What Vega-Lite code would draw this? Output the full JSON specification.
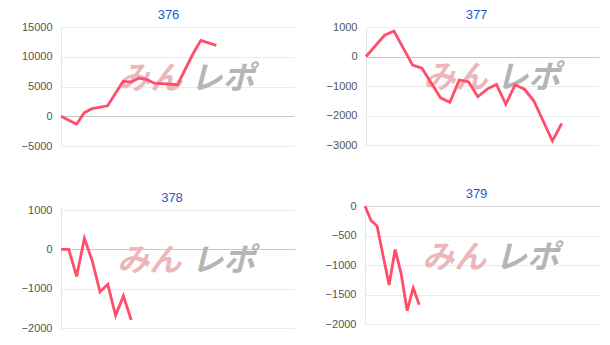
{
  "$schema": "https://vega.github.io/schema/vega-lite/v6.json",
  "padding": {"left": 19, "top": 9, "right": 5, "bottom": 5},
  "background": "#ffffff",
  "config": {
    "view": {"stroke": null},
    "font": "Liberation Sans",
    "title": {"fontSize": 13, "fontWeight": "normal", "color": "#1a5dc8", "font": "Liberation Sans", "offset": -1, "anchor": "middle"},
    "axisY": {"grid": true, "ticks": false, "domain": false, "labelPadding": 9, "labelColor": "#555555", "labelFontSize": 11, "gridColor": "#ebebeb", "minExtent": 40, "maxExtent": 40, "format": "d", "labelOverlap": false},
    "axisX": {"ticks": false, "domain": false, "labels": false, "grid": true, "gridColor": "#e6e6e6", "minExtent": 0, "maxExtent": 0}
  },
  "datasets": {
    "one": [{"k": 1}],
    "p376": [
      {"i": 0, "v": 0}, {"i": 2, "v": -1350}, {"i": 3, "v": 600}, {"i": 4, "v": 1280}, {"i": 6, "v": 1760},
      {"i": 8, "v": 5900}, {"i": 9, "v": 5730}, {"i": 10, "v": 6400}, {"i": 11, "v": 6200}, {"i": 12, "v": 5560},
      {"i": 15, "v": 5300}, {"i": 17, "v": 10500}, {"i": 18, "v": 12750}, {"i": 20, "v": 11900}
    ],
    "p377": [
      {"i": 0, "v": 0}, {"i": 2, "v": 720}, {"i": 3, "v": 865}, {"i": 5, "v": -290}, {"i": 6, "v": -395},
      {"i": 8, "v": -1400}, {"i": 9, "v": -1555}, {"i": 10, "v": -800}, {"i": 11, "v": -855}, {"i": 12, "v": -1365},
      {"i": 13, "v": -1105}, {"i": 14, "v": -945}, {"i": 15, "v": -1620}, {"i": 16, "v": -960}, {"i": 17, "v": -1110},
      {"i": 18, "v": -1500}, {"i": 20, "v": -2860}, {"i": 21, "v": -2270}
    ],
    "p378": [
      {"i": 0, "v": 0}, {"i": 1, "v": 0}, {"i": 2, "v": -690}, {"i": 3, "v": 280}, {"i": 4, "v": -290},
      {"i": 5, "v": -1080}, {"i": 6, "v": -890}, {"i": 7, "v": -1680}, {"i": 8, "v": -1185}, {"i": 9, "v": -1795}
    ],
    "p379": [
      {"i": 0, "v": 0}, {"i": 1, "v": -245}, {"i": 2, "v": -340}, {"i": 4, "v": -1340}, {"i": 5, "v": -735},
      {"i": 6, "v": -1150}, {"i": 7, "v": -1775}, {"i": 8, "v": -1390}, {"i": 9, "v": -1675}
    ]
  },
  "vconcat": [
    {
      "hconcat": [
        {
          "width": 233, "height": 119,
          "title": {"text": "376", "dx": -9},
          "layer": [
            {"data": {"name": "one"}, "mark": {"type": "text", "text": "みん", "font": "Noto Sans CJK JP", "fontSize": 32, "fontWeight": "bold", "fontStyle": "italic", "color": "#ebb7b9", "baseline": "middle", "align": "center"}, "encoding": {"x": {"datum": 11.5, "type": "quantitative", "scale": {"domain": [0, 30], "nice": false, "zero": false}, "axis": {"values": [0], "title": null}}, "y": {"datum": 6290, "type": "quantitative", "scale": {"domain": [-5000, 15000], "nice": false, "zero": false}, "axis": {"values": [-5000, 0, 5000, 10000, 15000], "title": null, "labelOverlap": false, "gridColor": {"condition": {"test": "datum.value === 0", "value": "#c6c6c6"}, "value": "#ebebeb"}}}}},
            {"data": {"name": "one"}, "mark": {"type": "text", "text": "レポ", "font": "Noto Sans CJK JP", "fontSize": 32, "fontWeight": "bold", "fontStyle": "italic", "color": "#b5b5b5", "baseline": "middle", "align": "center"}, "encoding": {"x": {"datum": 20.8, "type": "quantitative", "scale": {"domain": [0, 30], "nice": false, "zero": false}, "axis": {"values": [0], "title": null}}, "y": {"datum": 6290, "type": "quantitative", "scale": {"domain": [-5000, 15000], "nice": false, "zero": false}, "axis": {"values": [-5000, 0, 5000, 10000, 15000], "title": null, "labelOverlap": false, "gridColor": {"condition": {"test": "datum.value === 0", "value": "#c6c6c6"}, "value": "#ebebeb"}}}}},
            {"data": {"name": "p376"}, "mark": {"type": "line", "color": "#ff4d6a", "strokeWidth": 2.8}, "encoding": {"x": {"field": "i", "type": "quantitative", "scale": {"domain": [0, 30], "nice": false, "zero": false}, "axis": {"values": [0], "title": null}}, "y": {"field": "v", "type": "quantitative", "scale": {"domain": [-5000, 15000], "nice": false, "zero": false}, "axis": {"values": [-5000, 0, 5000, 10000, 15000], "title": null, "labelOverlap": false, "gridColor": {"condition": {"test": "datum.value === 0", "value": "#c6c6c6"}, "value": "#ebebeb"}}}}}
          ]
        },
        {
          "width": 233, "height": 118,
          "title": {"text": "377", "dx": -6},
          "layer": [
            {"data": {"name": "one"}, "mark": {"type": "text", "text": "みん", "font": "Noto Sans CJK JP", "fontSize": 32, "fontWeight": "bold", "fontStyle": "italic", "color": "#ebb7b9", "baseline": "middle", "align": "center"}, "encoding": {"x": {"datum": 9.6, "type": "quantitative", "scale": {"domain": [0, 25], "nice": false, "zero": false}, "axis": {"values": [0], "title": null}}, "y": {"datum": -745, "type": "quantitative", "scale": {"domain": [-3000, 1000], "nice": false, "zero": false}, "axis": {"values": [-3000, -2000, -1000, 0, 1000], "title": null, "labelOverlap": false, "gridColor": {"condition": {"test": "datum.value === 0", "value": "#c6c6c6"}, "value": "#ebebeb"}}}}},
            {"data": {"name": "one"}, "mark": {"type": "text", "text": "レポ", "font": "Noto Sans CJK JP", "fontSize": 32, "fontWeight": "bold", "fontStyle": "italic", "color": "#b5b5b5", "baseline": "middle", "align": "center"}, "encoding": {"x": {"datum": 17.4, "type": "quantitative", "scale": {"domain": [0, 25], "nice": false, "zero": false}, "axis": {"values": [0], "title": null}}, "y": {"datum": -745, "type": "quantitative", "scale": {"domain": [-3000, 1000], "nice": false, "zero": false}, "axis": {"values": [-3000, -2000, -1000, 0, 1000], "title": null, "labelOverlap": false, "gridColor": {"condition": {"test": "datum.value === 0", "value": "#c6c6c6"}, "value": "#ebebeb"}}}}},
            {"data": {"name": "p377"}, "mark": {"type": "line", "color": "#ff4d6a", "strokeWidth": 2.8}, "encoding": {"x": {"field": "i", "type": "quantitative", "scale": {"domain": [0, 25], "nice": false, "zero": false}, "axis": {"values": [0], "title": null}}, "y": {"field": "v", "type": "quantitative", "scale": {"domain": [-3000, 1000], "nice": false, "zero": false}, "axis": {"values": [-3000, -2000, -1000, 0, 1000], "title": null, "labelOverlap": false, "gridColor": {"condition": {"test": "datum.value === 0", "value": "#c6c6c6"}, "value": "#ebebeb"}}}}}
          ]
        }
      ],
      "spacing": 32
    },
    {
      "hconcat": [
        {
          "width": 234, "height": 122,
          "title": {"text": "378", "dx": -6},
          "layer": [
            {"data": {"name": "one"}, "mark": {"type": "text", "text": "みん", "font": "Noto Sans CJK JP", "fontSize": 32, "fontWeight": "bold", "fontStyle": "italic", "color": "#ebb7b9", "baseline": "middle", "align": "center"}, "encoding": {"x": {"datum": 11.3, "type": "quantitative", "scale": {"domain": [0, 30], "nice": false, "zero": false}, "axis": {"values": [0], "title": null}}, "y": {"datum": -306, "type": "quantitative", "scale": {"domain": [-2000, 1102], "nice": false, "zero": false}, "axis": {"values": [-2000, -1000, 0, 1000], "title": null, "labelOverlap": false, "minExtent": 42, "maxExtent": 42, "gridColor": {"condition": {"test": "datum.value === 0", "value": "#c6c6c6"}, "value": "#ebebeb"}}}}},
            {"data": {"name": "one"}, "mark": {"type": "text", "text": "レポ", "font": "Noto Sans CJK JP", "fontSize": 32, "fontWeight": "bold", "fontStyle": "italic", "color": "#b5b5b5", "baseline": "middle", "align": "center"}, "encoding": {"x": {"datum": 20.8, "type": "quantitative", "scale": {"domain": [0, 30], "nice": false, "zero": false}, "axis": {"values": [0], "title": null}}, "y": {"datum": -306, "type": "quantitative", "scale": {"domain": [-2000, 1102], "nice": false, "zero": false}, "axis": {"values": [-2000, -1000, 0, 1000], "title": null, "labelOverlap": false, "minExtent": 42, "maxExtent": 42, "gridColor": {"condition": {"test": "datum.value === 0", "value": "#c6c6c6"}, "value": "#ebebeb"}}}}},
            {"data": {"name": "p378"}, "mark": {"type": "line", "color": "#ff4d6a", "strokeWidth": 2.8}, "encoding": {"x": {"field": "i", "type": "quantitative", "scale": {"domain": [0, 30], "nice": false, "zero": false}, "axis": {"values": [0], "title": null}}, "y": {"field": "v", "type": "quantitative", "scale": {"domain": [-2000, 1102], "nice": false, "zero": false}, "axis": {"values": [-2000, -1000, 0, 1000], "title": null, "labelOverlap": false, "minExtent": 42, "maxExtent": 42, "gridColor": {"condition": {"test": "datum.value === 0", "value": "#c6c6c6"}, "value": "#ebebeb"}}}}}
          ]
        },
        {
          "width": 235, "height": 118,
          "title": {"text": "379", "dx": -6},
          "layer": [
            {"data": {"name": "one"}, "mark": {"type": "text", "text": "みん", "font": "Noto Sans CJK JP", "fontSize": 32, "fontWeight": "bold", "fontStyle": "italic", "color": "#ebb7b9", "baseline": "middle", "align": "center"}, "encoding": {"x": {"datum": 14.8, "type": "quantitative", "scale": {"domain": [0, 39], "nice": false, "zero": false}, "axis": {"values": [0], "title": null}}, "y": {"datum": -873, "type": "quantitative", "scale": {"domain": [-2000, 0], "nice": false, "zero": false}, "axis": {"values": [-2000, -1500, -1000, -500, 0], "title": null, "labelOverlap": false, "gridColor": {"condition": {"test": "datum.value === 0", "value": "#d6d6d6"}, "value": "#ebebeb"}}}}},
            {"data": {"name": "one"}, "mark": {"type": "text", "text": "レポ", "font": "Noto Sans CJK JP", "fontSize": 32, "fontWeight": "bold", "fontStyle": "italic", "color": "#b5b5b5", "baseline": "middle", "align": "center"}, "encoding": {"x": {"datum": 26.9, "type": "quantitative", "scale": {"domain": [0, 39], "nice": false, "zero": false}, "axis": {"values": [0], "title": null}}, "y": {"datum": -873, "type": "quantitative", "scale": {"domain": [-2000, 0], "nice": false, "zero": false}, "axis": {"values": [-2000, -1500, -1000, -500, 0], "title": null, "labelOverlap": false, "gridColor": {"condition": {"test": "datum.value === 0", "value": "#d6d6d6"}, "value": "#ebebeb"}}}}},
            {"data": {"name": "p379"}, "mark": {"type": "line", "color": "#ff4d6a", "strokeWidth": 2.8}, "encoding": {"x": {"field": "i", "type": "quantitative", "scale": {"domain": [0, 39], "nice": false, "zero": false}, "axis": {"values": [0], "title": null}}, "y": {"field": "v", "type": "quantitative", "scale": {"domain": [-2000, 0], "nice": false, "zero": false}, "axis": {"values": [-2000, -1500, -1000, -500, 0], "title": null, "labelOverlap": false, "gridColor": {"condition": {"test": "datum.value === 0", "value": "#d6d6d6"}, "value": "#ebebeb"}}}}}
          ]
        }
      ],
      "spacing": 30
    }
  ],
  "spacing": 37
}
